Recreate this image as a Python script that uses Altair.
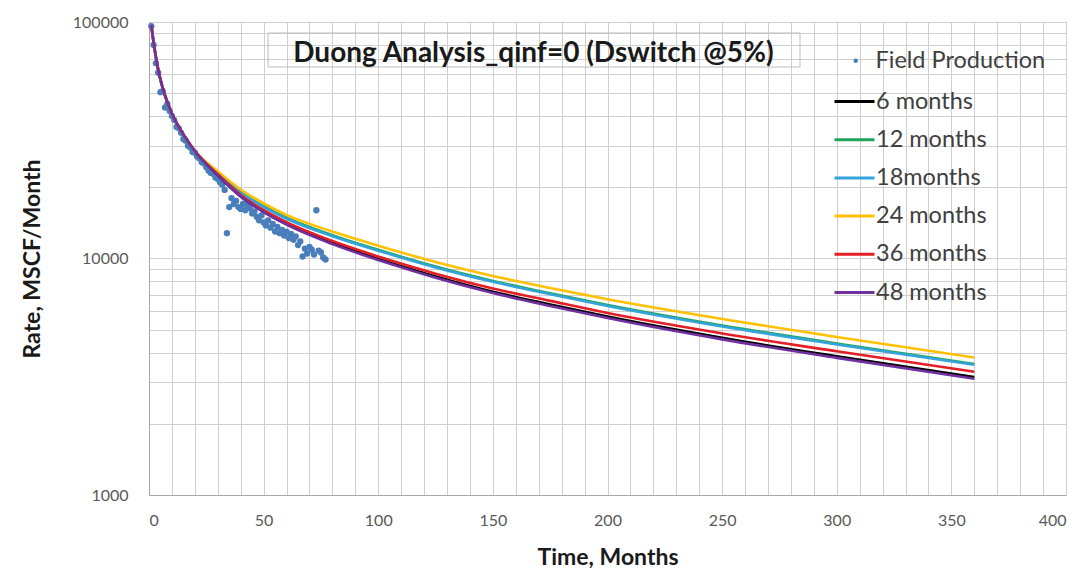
import altair as alt
import pandas as pd

# ---------------- data ----------------
field_t = list(range(1, 78))
field_q = [96000, 80000, 67000, 61000, 50500, 51000, 43500, 45000, 42000, 40000,
           38500, 36000, 35500, 34000, 32000, 31500, 30000, 29500, 28200, 28000,
           27000, 26500, 25500, 25200, 24300, 23500, 23000, 22800, 22000, 21700,
           21000, 20500, 19500, 12800, 16500, 18000, 17000, 17500, 16500, 16200,
           17000, 16000, 16800, 16300, 15500, 15800, 15000, 14500, 15200, 14200,
           13800, 14500, 13500, 14000, 13000, 13600, 12800, 13200, 12500, 13000,
           12200, 12700, 12000, 12400, 11400, 11800, 10200, 11000, 10500, 11200,
           10900, 10400, 16000, 10800, 10600, 10100, 9900]

curve_t = [1, 2, 4, 6, 10, 15, 20, 30, 40, 50, 60, 80, 100, 125, 150, 175, 200, 250, 300, 360]
q_6m = [97000, 82000, 63000, 52500, 41000, 33500, 28500,
        22500, 18300, 15780, 13970, 11620, 9950, 8400, 7240, 6390, 5680, 4620, 3860, 3150]
q_12m = [97000, 82000, 63000, 52500, 41000, 33500, 28500,
         22950, 19030, 16640, 14870, 12540, 10880, 9250, 8040, 7120, 6360, 5210, 4370, 3580]
q_18m = [97000, 82000, 63000, 52500, 41000, 33500, 28500,
         22840, 18940, 16490, 14730, 12420, 10790, 9170, 7970, 7060, 6300, 5160, 4330, 3550]
q_24m = [97000, 82000, 63000, 52500, 41000, 33500, 28500,
         23400, 19580, 17110, 15290, 13000, 11330, 9670, 8440, 7500, 6720, 5550, 4655, 3813]
q_36m = [97000, 82000, 63000, 52500, 41000, 33500, 28500,
         22730, 18570, 16010, 14250, 11850, 10190, 8630, 7470, 6620, 5880, 4820, 4050, 3320]
q_48m = [97000, 82000, 63000, 52500, 41000, 33500, 28500,
         22500, 18300, 15700, 13900, 11500, 9850, 8300, 7150, 6300, 5600, 4550, 3800, 3100]

series_names = ["6 months", "12 months", "18months", "24 months", "36 months", "48 months"]
series_colors = ["#000000", "#1fa55a", "#35a4dc", "#ffc000", "#e41e26", "#7030a0"]
series_values = [q_6m, q_12m, q_18m, q_24m, q_36m, q_48m]

x_ticks = list(range(0, 401, 10))
y_ticks = [m * 10 ** e for e in (3, 4) for m in range(1, 10)] + [100000]

title_text = "Duong Analysis_qinf=0 (Dswitch @5%)"

# ---------------- tables ----------------
field_df = pd.DataFrame({"t": field_t, "q": field_q, "src": "Field Production"})
rows = []
for name, vals in zip(series_names, series_values):
    for t, q in zip(curve_t, vals):
        rows.append({"t": t, "q": q, "series": name})
curve_df = pd.DataFrame(rows)

FONT = "Lato"
W, H = 917, 473

x_enc = alt.X("t:Q",
              scale=alt.Scale(domain=[0, 400], nice=False),
              axis=alt.Axis(values=x_ticks, title="Time, Months",
                            labelExpr="datum.value % 50 == 0 ? datum.label : ''",
                            labelOverlap=False, labelBound=False,
                            grid=True, ticks=False, labelPadding=17,
                            titlePadding=18))
y_enc = alt.Y("q:Q",
              scale=alt.Scale(type="log", domain=[1000, 100000], nice=False),
              axis=alt.Axis(values=y_ticks, format="d", title="Rate, MSCF/Month",
                            labelExpr="(datum.value == 1000 || datum.value == 10000 || datum.value == 100000) ? datum.label : ''",
                            labelOverlap=False,
                            grid=True, ticks=False, labelPadding=21,
                            titlePadding=28))

points = alt.Chart(field_df).mark_circle(size=40, opacity=1).encode(
    x=x_enc, y=y_enc,
    fill=alt.Fill("src:N", scale=alt.Scale(range=["#4a7ebb"]),
                  legend=alt.Legend(title=None, orient="none", legendX=695, legendY=27,
                                    symbolSize=20, symbolType="circle",
                                    labelOffset=8, labelLimit=0, padding=0))
)

stroke_enc = alt.Stroke("series:N",
                        scale=alt.Scale(domain=series_names, range=series_colors),
                        legend=alt.Legend(title=None, orient="none", legendX=684, legendY=58,
                                          symbolType="stroke", symbolSize=1600,
                                          symbolStrokeWidth=3, labelOffset=0,
                                          labelLimit=0, rowPadding=5.2, padding=0))

lines = [
    alt.Chart(curve_df).transform_filter(alt.datum.series == name)
    .mark_line(strokeWidth=2.6, interpolate="monotone")
    .encode(x=x_enc, y=y_enc, stroke=stroke_enc)
    for name in series_names
]

box = alt.Chart(pd.DataFrame({"k": [0]})).mark_rect(
    fillOpacity=0, stroke="#bdbdbd", strokeWidth=1
).encode(x=alt.value(119), x2=alt.value(651), y=alt.value(11), y2=alt.value(45))

chart = alt.layer(points, *lines, box).properties(
    width=W, height=H,
    background="white",
    autosize=alt.AutoSizeParams(type="none"),
    padding={"left": 149, "top": 22, "right": 18, "bottom": 80},
    title=alt.TitleParams(title_text, font=FONT, fontSize=28, fontWeight="bold",
                          color="#1a1a1a", anchor="middle", dx=-74, offset=-54),
).configure_view(stroke="#c8c8c8").configure_axis(
    gridColor="#cfcfcf", gridWidth=1, domainColor="#a6a6a6",
    labelFont=FONT, labelFontSize=16, labelColor="#595959",
    titleFont=FONT, titleFontSize=23, titleFontWeight="bold", titleColor="#1a1a1a"
).configure_legend(
    labelFont=FONT, labelFontSize=23.5, labelColor="#404040"
)

chart.save("out.html", embed_options={"renderer": "svg", "actions": False})
